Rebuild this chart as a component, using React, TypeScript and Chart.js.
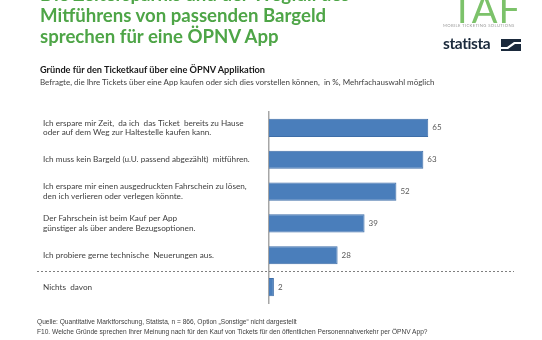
import React, { useEffect, useRef } from "react";
import { Chart, registerables } from "chart.js";
Chart.register(...registerables);

const titleLines = [
  "Die Zeitersparnis und der Wegfall des",
  "Mitführens von passenden Bargeld",
  "sprechen für eine ÖPNV App",
];
const subtitle = "Gründe für den Ticketkauf über eine ÖPNV Applikation";
const subtitle2 =
  "Befragte, die Ihre Tickets über eine App kaufen oder sich dies vorstellen können,  in %, Mehrfachauswahl möglich";
const categories: (string | string[])[] = [
  ["Ich erspare mir Zeit,  da ich  das Ticket  bereits zu Hause", "oder auf dem Weg zur Haltestelle kaufen kann."],
  "Ich muss kein Bargeld (u.U. passend abgezählt)  mitführen.",
  ["Ich erspare mir einen ausgedruckten Fahrschein zu lösen,", "den ich verlieren oder verlegen könnte."],
  ["Der Fahrschein ist beim Kauf per App", "günstiger als über andere Bezugsoptionen."],
  "Ich probiere gerne technische  Neuerungen aus.",
  "Nichts  davon",
];
const values = [65, 63, 52, 39, 28, 2];
const footer1 = "Quelle: Quantitative Marktforschung, Statista, n = 866, Option „Sonstige“ nicht dargestellt";
const footer2 =
  "F10. Welche Gründe sprechen Ihrer Meinung nach für den Kauf von Tickets für den öffentlichen Personennahverkehr per ÖPNV App?";

const FONT = "Lato, 'Open Sans', sans-serif";

export default function App() {
  const ref = useRef<HTMLCanvasElement>(null);
  useEffect(() => {
    if (!ref.current) return;
    const valueLabels = {
      id: "valueLabels",
      afterDatasetsDraw(chart: any) {
        const ctx = chart.ctx;
        const meta = chart.getDatasetMeta(0);
        ctx.save();
        ctx.font = `8px ${FONT}`;
        ctx.fillStyle = "#595959";
        ctx.textAlign = "left";
        ctx.textBaseline = "middle";
        meta.data.forEach((bar: any, i: number) => {
          ctx.fillText(String(values[i]), bar.x + 4, bar.y);
        });
        ctx.restore();
      },
    };
    const separator = {
      id: "separator",
      afterDraw(chart: any) {
        const ctx = chart.ctx;
        const ys = chart.scales.y;
        const y = Math.round((ys.getPixelForValue(4) + ys.getPixelForValue(5)) / 2) + 0.5;
        ctx.save();
        ctx.strokeStyle = "#7f7f7f";
        ctx.lineWidth = 1;
        ctx.setLineDash([2, 2]);
        ctx.beginPath();
        ctx.moveTo(37, y);
        ctx.lineTo(chart.chartArea.right, y);
        ctx.stroke();
        ctx.restore();
      },
    };
    const chart = new Chart(ref.current, {
      type: "bar",
      data: {
        labels: categories,
        datasets: [
          {
            data: values,
            backgroundColor: "#4a7ebb",
            borderColor: "#3e6ea8",
            borderWidth: 1,
            barPercentage: 0.57,
            categoryPercentage: 1,
          },
        ],
      },
      options: {
        indexAxis: "y",
        animation: false,
        responsive: false,
        events: [],
        layout: { padding: { left: 43, top: 112, bottom: 37, right: 28 } },
        plugins: { legend: { display: false }, tooltip: { enabled: false } },
        scales: {
          x: { display: false, min: 0, max: 100 },
          y: {
            grid: { display: false },
            border: { display: true, color: "#a6a6a6", width: 1.5 },
            ticks: {
              crossAlign: "far",
              color: "#404040",
              font: { family: FONT, size: 8.2, lineHeight: 1.2 },
              padding: 0,
            },
            afterFit(scale: any) {
              scale.width = 226;
            },
          },
        },
      },
      plugins: [valueLabels, separator],
    });
    return () => chart.destroy();
  }, []);

  return (
    <div style={{ position: "absolute", left: 0, top: 0, width: 542, height: 340, overflow: "hidden", background: "#fff", fontFamily: FONT }}>
      <canvas ref={ref} width={542} height={340} style={{ position: "absolute", left: 0, top: 0 }} />
      <div style={{ position: "absolute", left: 40, top: -16, color: "#4ea547", fontWeight: 700, fontSize: 18.6, lineHeight: "21px", whiteSpace: "nowrap" }}>
        {titleLines.map((t, i) => (
          <div key={i}>{t}</div>
        ))}
      </div>
      <div style={{ position: "absolute", left: 451, top: -11, color: "#7cc26a", fontSize: 38, fontWeight: 400, letterSpacing: 1, lineHeight: "38px" }}>TAF</div>
      <div style={{ position: "absolute", left: 443, top: 23, color: "#9a9a9a", fontSize: 4.2, letterSpacing: 0.35, whiteSpace: "nowrap" }}>MOBILE TICKETING SOLUTIONS</div>
      <div style={{ position: "absolute", left: 443, top: 35, color: "#1b2a3c", fontSize: 15.5, fontWeight: 700, lineHeight: "16px", letterSpacing: -0.4 }}>statista</div>
      <svg style={{ position: "absolute", left: 501, top: 39 }} width={20} height={12} viewBox="0 0 20 12">
        <rect x={0} y={0} width={20} height={12} fill="#1b2a3c" />
        <path d="M0 8 L6 8 L13 3 L20 3 L20 5 L14 5 L7 10 L0 10 Z" fill="#fff" />
      </svg>
      <div style={{ position: "absolute", left: 40, top: 64, color: "#1a1a1a", fontSize: 9.2, fontWeight: 700, whiteSpace: "nowrap" }}>{subtitle}</div>
      <div style={{ position: "absolute", left: 40, top: 77, color: "#404040", fontSize: 8, whiteSpace: "pre" }}>{subtitle2}</div>
      <div style={{ position: "absolute", left: 37, top: 318, color: "#404040", fontSize: 6.6, fontFamily: "'Liberation Sans', sans-serif", whiteSpace: "nowrap" }}>{footer1}</div>
      <div style={{ position: "absolute", left: 37, top: 328, color: "#404040", fontSize: 6.6, fontFamily: "'Liberation Sans', sans-serif", whiteSpace: "nowrap" }}>{footer2}</div>
    </div>
  );
}
